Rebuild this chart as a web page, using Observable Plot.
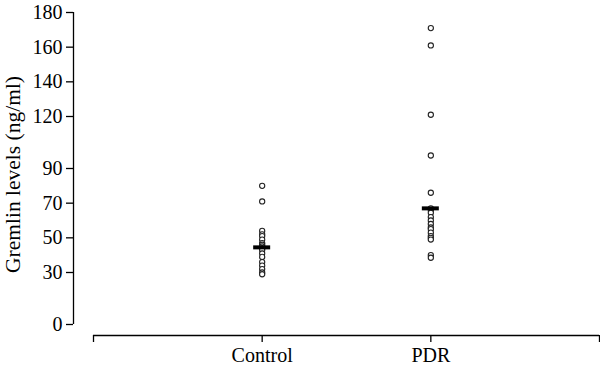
<!DOCTYPE html>
<html>
<head>
<meta charset="utf-8">
<script src="https://cdn.jsdelivr.net/npm/d3@7"></script>
<script src="https://cdn.jsdelivr.net/npm/@observablehq/plot@0.6"></script>
<style>
  html, body { margin: 0; padding: 0; background: #fff; }
</style>
</head>
<body>
<div id="chart"></div>
<script>
const groups = ["Control", "PDR"];
const controlValues = [80, 71, 54, 52, 51, 49, 47, 46, 45, 44, 43, 41, 39, 36, 34, 32, 30, 29];
const pdrValues = [171, 161, 121, 97.5, 76, 67, 66, 64.5, 62, 60, 58, 56, 55, 53, 51, 50, 49, 40, 38.5];
const groupMeans = [44.5, 67];
const yTicks = [0, 30, 50, 70, 90, 120, 140, 160, 180];
const yLabel = "Gremlin levels (ng/ml)";

const points = [
  ...controlValues.map(v => ({group: groups[0], value: v})),
  ...pdrValues.map(v => ({group: groups[1], value: v}))
];
const pos = g => groups.indexOf(g) + 1;

const chart = Plot.plot({
  width: 600,
  height: 372,
  marginTop: 12,
  marginBottom: 48,
  marginLeft: 93,
  marginRight: 1,
  x: {type: "linear", domain: [0, groups.length + 1]},
  y: {domain: [0, 180]},
  style: {fontFamily: "'Liberation Serif', serif", fontSize: "20px", color: "black", background: "white"},
  marks: [
    Plot.ruleX([0], {y1: 0, y2: 180, dx: -20, stroke: "black", strokeWidth: 1.3}),
    Plot.axisY({ticks: yTicks, tickSize: 7, tickPadding: 4, dx: -20, label: null, tickFormat: d => String(d), strokeWidth: 1.3}),
    Plot.ruleY([0], {x1: 0, x2: groups.length + 1, dy: 11, stroke: "black", strokeWidth: 1.3}),
    Plot.axisX({ticks: d3.range(0, groups.length + 2), tickSize: 7, tickPadding: 5, dy: 11, label: null,
      tickFormat: d => groups[d - 1] ?? "", strokeWidth: 1.3}),
    Plot.text([yLabel], {frameAnchor: "left", rotate: -90, dx: -80, dy: 6, fontSize: 21.5, textAnchor: "middle", lineAnchor: "middle"}),
    Plot.dot(points, {x: d => pos(d.group), y: "value", r: 2.6, fill: "white", stroke: "#222", strokeWidth: 1.1}),
    Plot.ruleY(groupMeans, {x1: (d, i) => i + 1, x2: (d, i) => i + 1, y: d => d, insetLeft: -8.5, insetRight: -8.5, stroke: "black", strokeWidth: 4})
  ]
});
document.getElementById("chart").appendChild(chart);
</script>
</body>
</html>
